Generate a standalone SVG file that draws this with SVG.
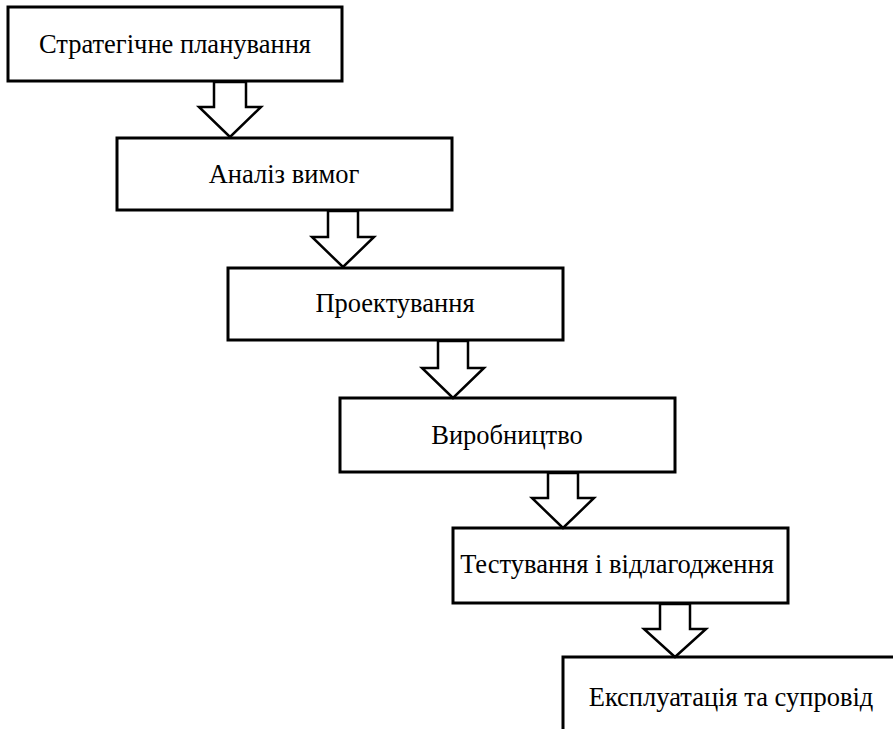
<svg xmlns="http://www.w3.org/2000/svg" width="893" height="729" viewBox="0 0 893 729">
<style>
.box{fill:#fff;stroke:#000;stroke-width:3}
.arr{fill:#fff;stroke:#000;stroke-width:2.5;stroke-linejoin:miter}
.lbl{font-family:"Liberation Serif","Times New Roman",serif;font-size:26.5px;fill:#000;text-anchor:middle}
</style>
<rect width="893" height="729" fill="#fff"/>
<g id="n1"><rect class="box" x="8" y="7" width="334" height="74"/><text class="lbl" x="175" y="53">Стратегічне планування</text></g>
<g id="n2"><rect class="box" x="117" y="138" width="335" height="72"/><text class="lbl" x="284" y="183">Аналіз вимог</text></g>
<g id="n3"><rect class="box" x="228" y="268" width="335" height="72"/><text class="lbl" x="395" y="312">Проектування</text></g>
<g id="n4"><rect class="box" x="340" y="398" width="335" height="74"/><text class="lbl" x="507" y="444">Виробництво</text></g>
<g id="n5"><rect class="box" x="453" y="528" width="335" height="75"/><text class="lbl" x="617" y="573">Тестування і відлагодження</text></g>
<g id="n6"><rect class="box" x="563" y="657" width="335" height="100"/><text class="lbl" x="731" y="706">Експлуатація та супровід</text></g>
<g id="connectors">
<polygon class="arr" points="214,82 214,107 199,107 230,137 261,107 246,107 246,82"/>
<polygon class="arr" points="328,211 328,237 312,237 343,267 374,237 358,237 358,211"/>
<polygon class="arr" points="438,341 438,368 422,368 453,398 484,368 468,368 468,341"/>
<polygon class="arr" points="548,473 548,498 532,498 563,528 594,498 578,498 578,473"/>
<polygon class="arr" points="660,604 660,629 644,629 675,657 706,629 690,629 690,604"/>
</g>
</svg>
